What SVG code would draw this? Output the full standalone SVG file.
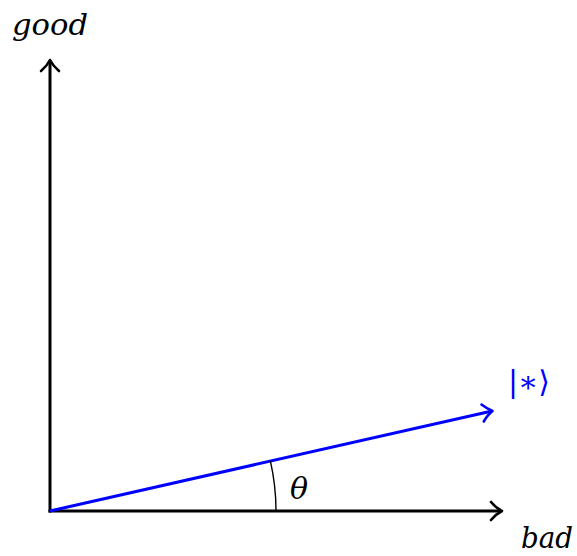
<svg xmlns="http://www.w3.org/2000/svg" width="577" height="556" viewBox="0 0 577 556">
<style>
text{font-family:'DejaVu Serif','Liberation Serif',serif;font-size:30px}
.it{font-style:italic}
.ax{stroke:#000;stroke-width:3;fill:none;stroke-linecap:butt}
.vec{stroke:#0000ff;stroke-width:3;fill:none}
.tip{fill:none;stroke-width:2.6;stroke-linecap:round;stroke-linejoin:round}
</style>
<rect width="577" height="556" fill="#fff"/>
<g id="connectors">
<line class="ax" x1="50" y1="512.5" x2="50" y2="61"/>
<path class="tip" stroke="#000" d="M41,71 Q47,66 50,60 Q53,66 59,71"/>
<line class="ax" x1="48.5" y1="511" x2="501" y2="511"/>
<path class="tip" stroke="#000" d="M491,502 Q496,508 502,511 Q496,514 491,520"/>
<line class="vec" x1="50" y1="511" x2="491" y2="411.2"/>
<path class="tip" stroke="#0000ff" d="M481.5,404.5 Q487.5,409 492.5,411 Q487.8,414.5 483.8,421.5"/>
<path d="M276,511 A226,226 0 0 0 270.4,461.1" fill="none" stroke="#000" stroke-width="1.4"/>
</g>
<g id="good"><text class="it" x="12" y="35" textLength="76" lengthAdjust="spacingAndGlyphs">good</text></g>
<g id="bad"><text class="it" x="521" y="548" textLength="52" lengthAdjust="spacingAndGlyphs">bad</text></g>
<g id="ket"><text x="508" y="392" fill="#0000ff" font-size="36" textLength="42" lengthAdjust="spacingAndGlyphs">|∗⟩</text></g>
<g id="theta"><text class="it" x="290" y="499" font-size="34">θ</text></g>
</svg>
